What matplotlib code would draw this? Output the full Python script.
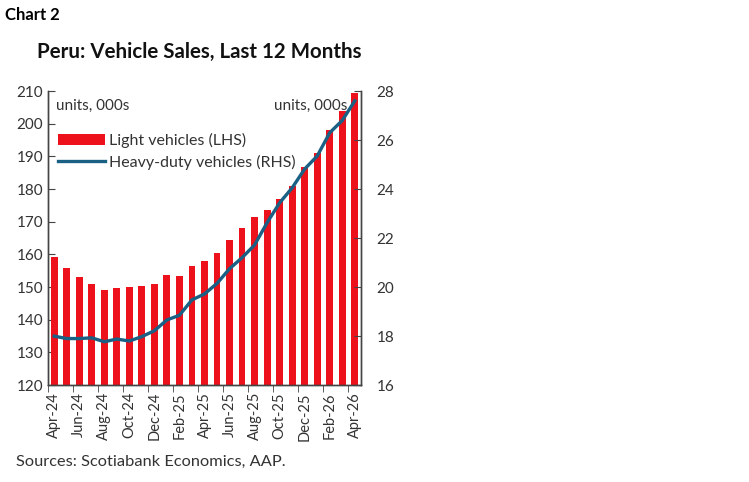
import numpy as np
import matplotlib.pyplot as plt

plt.rcParams['font.family'] = ['Lato', 'DejaVu Sans']

months = ['Apr-24', 'May-24', 'Jun-24', 'Jul-24', 'Aug-24', 'Sep-24', 'Oct-24',
          'Nov-24', 'Dec-24', 'Jan-25', 'Feb-25', 'Mar-25', 'Apr-25', 'May-25',
          'Jun-25', 'Jul-25', 'Aug-25', 'Sep-25', 'Oct-25', 'Nov-25', 'Dec-25',
          'Jan-26', 'Feb-26', 'Mar-26', 'Apr-26']

# ventas de vehiculos ligeros (LHS), miles de unidades
light = [159.1, 156.0, 153.2, 151.0, 149.2, 149.6, 150.0, 150.4, 151.0, 153.6,
         153.4, 156.6, 158.1, 160.5, 164.5, 168.2, 171.6, 173.6, 177.1, 181.1,
         186.8, 191.0, 198.2, 203.8, 209.3]

# vehiculos pesados (RHS), miles de unidades
heavy = [18.0, 17.9, 17.9, 17.93, 17.77, 17.88, 17.8, 17.98, 18.22, 18.66,
         18.85, 19.48, 19.72, 20.15, 20.75, 21.2, 21.72, 22.63, 23.44, 24.05,
         24.82, 25.35, 26.3, 26.8, 27.6]

red = '#ec111a'
blue = '#1a5f84'
grey = '#333333'

x = np.arange(len(months))

fig = plt.figure(figsize=(7.49, 4.82), dpi=100)
ax = fig.add_axes([0.064, 0.201, 0.418, 0.610])
ax2 = ax.twinx()

ax.bar(x, light, width=0.55, color=red, label='Light vehicles (LHS)', zorder=2)
ax2.plot(x, heavy, color=blue, lw=2.4, label='Heavy-duty vehicles (RHS)', zorder=3)

ax.set_xlim(-0.5, len(months) - 0.5)
ax.set_ylim(120, 210)
ax.set_yticks(range(120, 211, 10))
ax2.set_ylim(16, 28)
ax2.set_yticks(range(16, 29, 2))

ax.set_xticks(x[::2])
ax.set_xticklabels(months[::2], rotation=90, fontsize=10.5, color=grey)
ax.set_xticks(x[::2] - 0.5, minor=True)
ax.tick_params(axis='x', which='major', length=0, pad=5)
ax.tick_params(axis='x', which='minor', length=5, direction='out', color='#444444')
ax.tick_params(axis='y', direction='in', length=5, labelsize=11, labelcolor=grey, color='#444444')
ax2.tick_params(axis='y', direction='in', length=5, labelsize=11, labelcolor=grey, color='#444444', pad=11)

for a in (ax, ax2):
    a.spines['top'].set_visible(False)
    for s in ('left', 'right', 'bottom'):
        a.spines[s].set_color('#444444')
        a.spines[s].set_linewidth(1.0)

ax.text(0.025, 0.975, 'units, 000s', transform=ax.transAxes, ha='left', va='top',
        fontsize=11, color=grey)
ax.text(0.955, 0.975, 'units, 000s', transform=ax.transAxes, ha='right', va='top',
        fontsize=11, color=grey)

h1, l1 = ax.get_legend_handles_labels()
h2, l2 = ax2.get_legend_handles_labels()
leg = ax2.legend(h1 + h2, l1 + l2, loc='upper left', bbox_to_anchor=(-0.005, 0.895),
                 frameon=False, fontsize=11.5, handlelength=3.0, handletextpad=0.2,
                 borderaxespad=0.3, labelspacing=0.42)
for t in leg.get_texts():
    t.set_color(grey)

fig.text(0.007, 0.968, 'Chart 2', fontsize=12, fontweight='bold', ha='left', va='center')
fig.text(0.266, 0.892, 'Peru: Vehicle Sales, Last 12 Months', fontsize=14.8,
         fontweight='bold', ha='center', va='center', color='#111111')
fig.text(0.022, 0.041, 'Sources: Scotiabank Economics, AAP.', fontsize=11.8,
         ha='left', va='center', color=grey)

fig.savefig('out.png', dpi=100)
